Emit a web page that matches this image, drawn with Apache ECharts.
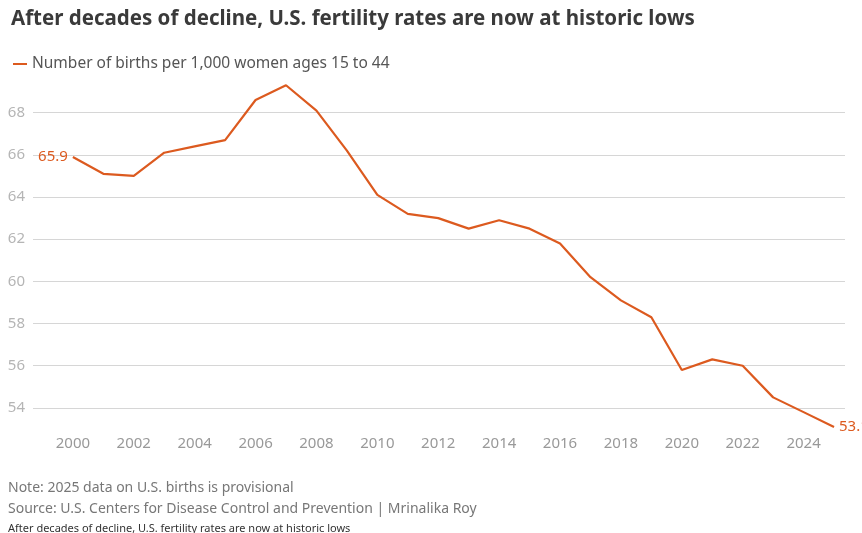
<!DOCTYPE html>
<html>
<head>
<meta charset="utf-8">
<script src="https://cdn.jsdelivr.net/npm/echarts@6.0.0/dist/echarts.min.js"></script>
<style>
  html, body { margin: 0; padding: 0; background: #fff; }
  #main { width: 862px; height: 533px; }
</style>
</head>
<body>
<div id="main"></div>
<script>
// years and birth rate (births per 1,000 women 15-44)
var years = [2000, 2001, 2002, 2003, 2004, 2005, 2006, 2007, 2008, 2009,
             2010, 2011, 2012, 2013, 2014, 2015, 2016, 2017, 2018, 2019,
             2020, 2021, 2022, 2023, 2024, 2025];
var rates = [65.9, 65.1, 65.0, 66.1, 66.4, 66.7, 68.6, 69.3, 68.1, 66.2,
             64.1, 63.2, 63.0, 62.5, 62.9, 62.5, 61.8, 60.2, 59.1, 58.3,
             55.8, 56.3, 56.0, 54.5, 53.8, 53.1];
// tick labels
var xTicks = [2000, 2002, 2004, 2006, 2008, 2010, 2012, 2014, 2016, 2018, 2020, 2022, 2024];
var yTicks = [54, 56, 58, 60, 62, 64, 66, 68];

var orange = '#dc5a1f';
var font = '"Noto Sans", sans-serif';

// first and last points get a value label
var seriesData = [];
for (var i = 0; i < years.length; i++) {
    var item = { value: [years[i], rates[i]] };
    if (i == 0) {
        item.label = { show: true, position: 'left', distance: 5 };
    } else if (i == years.length - 1) {
        item.label = { show: true, position: 'right', distance: 5 };
    }
    seriesData.push(item);
}

var myChart = echarts.init(document.getElementById('main'));
var option = {
    animation: false,
    title: {
        text: 'After decades of decline, U.S. fertility rates are now at historic lows',
        left: 6,
        top: 4,
        textStyle: { fontFamily: font, fontSize: 20.5, fontWeight: 'bold', color: '#3a3a3a' }
    },
    legend: {
        left: 8,
        top: 51,
        icon: 'rect',
        itemWidth: 14,
        itemHeight: 2,
        itemGap: 6,
        textStyle: { fontFamily: font, fontSize: 15.5, color: '#555' },
        data: ['Number of births per 1,000 women ages 15 to 44']
    },
    grid: { left: 33, right: 17, top: 70.5, bottom: 104 },
    xAxis: {
        type: 'value',
        min: 1998.69,
        max: 2025.36,
        axisLine: { show: false },
        axisTick: { show: false },
        splitLine: { show: false },
        axisLabel: {
            customValues: xTicks,
            formatter: function (v) { return String(v); },
            margin: 7,
            fontFamily: font,
            fontSize: 15,
            color: '#999'
        }
    },
    yAxis: {
        type: 'value',
        min: 53,
        max: 70,
        axisLine: { show: false },
        axisTick: { show: false, customValues: yTicks },
        axisLabel: {
            customValues: yTicks,
            margin: 8,
            fontFamily: font,
            fontSize: 15,
            color: '#b5b5b5'
        },
        splitLine: { show: true, lineStyle: { color: '#d6d6d6', width: 1 } }
    },
    series: [{
        name: 'Number of births per 1,000 women ages 15 to 44',
        type: 'line',
        data: seriesData,
        showSymbol: true,
        symbol: 'circle',
        symbolSize: 0,
        clip: false,
        lineStyle: { color: orange, width: 2.2 },
        itemStyle: { color: orange },
        label: { show: false, fontFamily: font, fontSize: 15, color: orange, formatter: function (p) { return p.value[1].toFixed(1); } }
    }],
    graphic: [
        { type: 'text', left: 8, top: 481, style: { text: 'Note: 2025 data on U.S. births is provisional', fontFamily: font, fontSize: 14, fill: '#777' } },
        { type: 'text', left: 8, top: 502, style: { text: 'Source: U.S. Centers for Disease Control and Prevention | Mrinalika Roy', fontFamily: font, fontSize: 14, fill: '#777' } },
        { type: 'text', left: 8, top: 523, style: { text: 'After decades of decline, U.S. fertility rates are now at historic lows', fontFamily: font, fontSize: 11, fill: '#333' } }
    ]
};
myChart.setOption(option);
</script>
</body>
</html>
